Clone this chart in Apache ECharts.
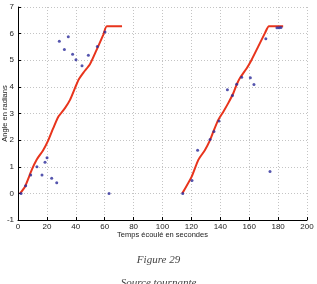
<!DOCTYPE html>
<html>
<head>
<meta charset="utf-8">
<script src="https://cdn.jsdelivr.net/npm/echarts@6/dist/echarts.min.js"></script>
<style>
html,body{margin:0;padding:0;background:#fff;}
#c{width:317px;height:284px;}
</style>
</head>
<body>
<div id="c"></div>
<script>
// Red fitted curve, first rotation
const fitTime1 = [1.4, 4.8, 9.5, 12.9, 17.5, 21, 24.4, 27.9, 32.5, 36, 39.4, 42, 45.5, 49.8, 54.4, 59, 61.5, 72];
const fitAngle1 = [0, 0.25, 0.88, 1.26, 1.63, 2.0, 2.45, 2.88, 3.2, 3.51, 3.95, 4.28, 4.55, 4.85, 5.39, 5.95, 6.28, 6.28];
// Red fitted curve, second rotation
const fitTime2 = [113.7, 120.2, 124.8, 129.4, 132.9, 135.2, 138.6, 142.1, 145.5, 149, 151.3, 153.6, 158.3, 161.7, 166.3, 170.9, 173.7, 183.5];
const fitAngle2 = [0, 0.63, 1.26, 1.63, 2.0, 2.32, 2.76, 3.07, 3.39, 3.76, 4.08, 4.33, 4.7, 5.02, 5.52, 6.02, 6.28, 6.28];
// Blue measured points
const measTime = [2.1, 5.3, 8.8, 13.1, 16.6, 18.7, 20.1, 23.3, 26.8, 28.6, 32.1, 34.8, 37.8, 40.1, 44.3, 48.7, 54.9, 60.2, 63,
  114, 120.4, 124.3, 132.9, 135.6, 139.1, 144.9, 148.4, 151.3, 154.8, 160.8, 163.3, 171.5, 174.4, 179.2, 180.7, 182];
const measAngle = [0, 0.29, 0.69, 1.0, 0.69, 1.17, 1.34, 0.57, 0.40, 5.71, 5.40, 5.88, 5.23, 5.02, 4.79, 5.19, 5.52, 6.06, 0,
  0, 0.48, 1.62, 2.02, 2.32, 2.72, 3.89, 3.68, 4.10, 4.36, 4.34, 4.09, 5.81, 0.82, 6.22, 6.22, 6.23];
const xTicks = [0, 20, 40, 60, 80, 100, 120, 140, 160, 180, 200];
const yTicks = [-1, 0, 1, 2, 3, 4, 5, 6, 7];

const zip = (a, b) => a.map((v, i) => [v, b[i]]);
const chart = echarts.init(document.getElementById('c'), null, {renderer: 'canvas'});
const axisFont = {fontFamily: 'Liberation Sans, Arial, sans-serif', fontSize: 8, color: '#222'};
chart.setOption({
  animation: false,
  backgroundColor: '#fff',
  title: [
    {text: 'Figure 29', left: 'center', top: 250, textStyle: {fontFamily: 'Liberation Serif, serif', fontStyle: 'italic', fontWeight: 'normal', fontSize: 11, color: '#444'}},
    {text: 'Source tournante', left: 'center', top: 273, textStyle: {fontFamily: 'Liberation Serif, serif', fontStyle: 'italic', fontWeight: 'normal', fontSize: 11, color: '#444'}}
  ],
  grid: {left: 18, right: 10, top: 7, bottom: 64, containLabel: false, outerBoundsMode: 'none'},
  xAxis: {
    type: 'value', min: xTicks[0], max: xTicks[xTicks.length - 1], interval: 20,
    name: 'Temps écoulé en secondes', nameLocation: 'middle', nameGap: 11, nameMoveOverlap: false,
    nameTextStyle: {fontFamily: 'Liberation Sans, Arial, sans-serif', fontSize: 7.5, color: '#222', verticalAlign: 'top'},
    axisLine: {onZero: false, lineStyle: {color: '#000', width: 1}},
    axisTick: {inside: true, length: 3, lineStyle: {color: '#000'}},
    axisLabel: Object.assign({margin: 3}, axisFont),
    splitLine: {show: true, lineStyle: {color: '#c4c4c4', type: [1, 2], width: 1}}
  },
  yAxis: {
    type: 'value', min: yTicks[0], max: yTicks[yTicks.length - 1], interval: 1,
    name: 'Angle en radians', nameLocation: 'middle', nameGap: 9, nameRotate: 90, nameMoveOverlap: false,
    nameTextStyle: {fontFamily: 'Liberation Sans, Arial, sans-serif', fontSize: 7.5, color: '#222'},
    axisLine: {show: true, onZero: false, lineStyle: {color: '#000', width: 1}},
    axisTick: {show: true, inside: true, length: 3, lineStyle: {color: '#000'}},
    axisLabel: Object.assign({margin: 4}, axisFont),
    splitLine: {show: true, lineStyle: {color: '#c4c4c4', type: [1, 2], width: 1}}
  },
  series: [
    {type: 'line', data: zip(fitTime1, fitAngle1), smooth: 0.2, showSymbol: false, lineStyle: {color: '#e8341c', width: 2}, z: 2},
    {type: 'line', data: zip(fitTime2, fitAngle2), smooth: 0.2, showSymbol: false, lineStyle: {color: '#e8341c', width: 2}, z: 2},
    {type: 'scatter', data: zip(measTime, measAngle), symbol: 'circle', symbolSize: 3, itemStyle: {color: '#2a2a9a'}, z: 3}
  ]
});
</script>
</body>
</html>
